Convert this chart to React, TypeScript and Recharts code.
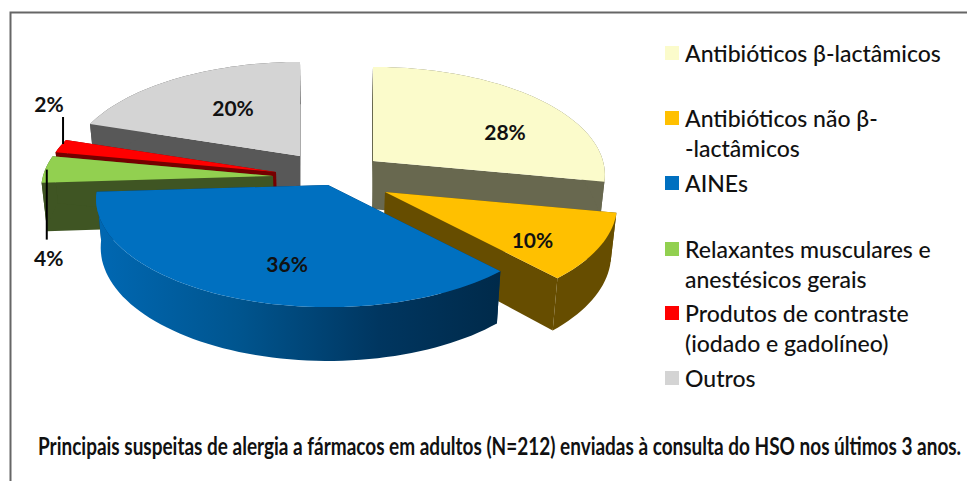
import { Legend, Pie, PieChart } from "recharts";

const names = [
  "Antibióticos β-lactâmicos",
  "Antibióticos não β-\n-lactâmicos",
  "AINEs",
  "Relaxantes musculares e\nanestésicos gerais",
  "Produtos de contraste\n(iodado e gadolíneo)",
  "Outros",
];
const shares = [28, 10, 36, 4, 2, 20];
const colors = ["#FBFBCB", "#FFC000", "#0070C0", "#92D050", "#FF0000", "#D4D4D4"];
const sideColors = ["#68684F", "#664D00", "#003560", "#3F5523", "#750000", "#585858"];

// painter's order, back slices first
const drawOrder = [5, 4, 3, 0, 1, 2];

const data = names.map((name, i) => ({
  name,
  value: shares[i],
  fill: colors[i],
  side: sideColors[i],
}));

const WIDTH = 967;
const HEIGHT = 481;
const CX = 325;
const CY = 170;
const RADIUS = 230;
const TILT = 0.47;
const PERSPECTIVE = 0.13;
const DEPTH = 48;
const DEPTH_GROW = 0.12;
const BOTTOM_SCALE = 0.98;

// how far each slice is pulled out of the pie, in pixels
const explode = [
  [48, -9],
  [60, 22],
  [3, 15],
  [-52, 6],
  [-49, 2],
  [-25, -14],
];
// label position relative to the slice's mid angle
const labelPlace = [
  [0.6, 31, 10],
  [0.6, 22, 15],
  [0.5, 4, 25],
  [1.1, 26, 89],
  [1.2, 30, -37],
  [0.6, 9, 1],
];
// leader line beside a label: dx, y from, y to
const leaders: Record<number, number[]> = {
  3: [-2, -88, -18],
  4: [14, 13, 40],
};

const rad = Math.PI / 180;

function project(clockDeg: number, r: number, shift: number[]) {
  const X = r * Math.sin(clockDeg * rad);
  const Y = -r * Math.cos(clockDeg * rad);
  const s = 1 + PERSPECTIVE * Y;
  return {
    x: CX + RADIUS * X * s + shift[0],
    y: CY + RADIUS * TILT * Y * s + shift[1],
    Y,
  };
}

const lower = (p: { x: number; y: number; Y: number }) => ({
  x: CX + (p.x - CX) * BOTTOM_SCALE,
  y: p.y + DEPTH * (1 + DEPTH_GROW * p.Y),
  Y: p.Y,
});

const toPath = (pts: { x: number; y: number }[]) =>
  "M" + pts.map((p) => `${p.x.toFixed(1)},${p.y.toFixed(1)}`).join("L") + "Z";

function Slice(props: any) {
  const i = names.indexOf(props.name);
  const shift = explode[i];
  // recharts angles run counter clockwise from 3 o'clock
  const from = 90 - props.startAngle;
  const to = 90 - props.endAngle;
  const rim = [];
  const steps = Math.max(4, Math.ceil((to - from) / 2));
  for (let k = 0; k <= steps; k++) {
    rim.push(project(from + ((to - from) * k) / steps, 1, shift));
  }
  const tip = project(0, 0, shift);
  const wall = [...rim, ...rim.map(lower).reverse()];
  const gradId = `wall-${i}`;
  return (
    <g>
      <defs>
        <linearGradient id={gradId} x1="0" y1="0" x2="1" y2="0">
          <stop offset="0" stopColor="#0068B3" />
          <stop offset="0.35" stopColor="#00558F" />
          <stop offset="0.7" stopColor="#003660" />
          <stop offset="1" stopColor="#002A4A" />
        </linearGradient>
      </defs>
      <path d={toPath([tip, rim[0], lower(rim[0]), lower(tip)])} fill={props.side} />
      <path
        d={toPath([tip, rim[rim.length - 1], lower(rim[rim.length - 1]), lower(tip)])}
        fill={props.side}
      />
      <path d={toPath(wall)} fill={i === 2 ? `url(#${gradId})` : props.side} />
      <path d={toPath([tip, ...rim])} fill={props.fill} />
    </g>
  );
}

const onlySlice = (idx: number) => (props: any) =>
  names.indexOf(props.name) === idx ? <Slice {...props} /> : <g />;

function SliceLabel(props: any) {
  const i = names.indexOf(props.name);
  const [dist, dx, dy] = labelPlace[i];
  const p = project(90 - props.midAngle, dist, explode[i]);
  const x = p.x + dx;
  const y = p.y + dy;
  const leader = leaders[i];
  return (
    <g>
      {leader && (
        <line
          x1={x + leader[0]}
          x2={x + leader[0]}
          y1={y + leader[1]}
          y2={y + leader[2]}
          stroke="#000"
          strokeWidth={2}
        />
      )}
      <text
        x={x}
        y={y}
        textAnchor="middle"
        dominantBaseline="central"
        fontFamily="Lato"
        fontSize={21}
        fontWeight={700}
        fill="#111"
      >
        {`${props.value}%`}
      </text>
    </g>
  );
}

const legendTops = [53, 118, 183, 249, 313, 378];

function ChartLegend() {
  return (
    <div style={{ position: "relative", width: 307, height: HEIGHT }}>
      {names.map((name, i) => (
        <div key={name}>
          <div
            style={{
              position: "absolute",
              left: 5,
              top: legendTops[i] - 7,
              width: 14,
              height: 14,
              background: colors[i],
            }}
          />
          {name.split("\n").map((line, n) => (
            <div
              key={line}
              style={{
                position: "absolute",
                left: 25,
                top: legendTops[i] + n * 30 - 15,
                lineHeight: "30px",
                whiteSpace: "nowrap",
                fontFamily: "Lato",
                fontSize: 23,
                fontWeight: 500,
                color: "#111",
              }}
            >
              {line}
            </div>
          ))}
        </div>
      ))}
    </div>
  );
}

export default function App() {
  return (
    <div style={{ position: "absolute", left: 0, top: 0, width: WIDTH, height: HEIGHT, background: "#fff" }}>
      <PieChart width={WIDTH} height={HEIGHT} margin={{ top: 0, right: 0, bottom: 0, left: 0 }}>
        <path d="M10.5,481V12.5H967" fill="none" stroke="#666" strokeWidth={2} />
        {drawOrder.map((idx) => (
          <Pie
            key={idx}
            data={data}
            dataKey="value"
            nameKey="name"
            cx={CX}
            cy={CY}
            outerRadius={RADIUS}
            startAngle={90}
            endAngle={-270}
            stroke="none"
            legendType="none"
            shape={onlySlice(idx)}
            isAnimationActive={false}
          />
        ))}
        <Pie
          data={data}
          dataKey="value"
          nameKey="name"
          cx={CX}
          cy={CY}
          outerRadius={RADIUS}
          startAngle={90}
          endAngle={-270}
          shape={() => <g />}
          label={SliceLabel}
          labelLine={false}
          isAnimationActive={false}
        />
        <text
          transform="translate(38,445) scale(0.759,1)"
          dominantBaseline="central"
          fontFamily="Lato"
          fontSize={25}
          fontWeight={700}
          fill="#111"
        >
          Principais suspeitas de alergia a fármacos em adultos (N=212) enviadas à consulta do HSO nos últimos 3 anos.
        </text>
        <Legend
          layout="vertical"
          align="right"
          verticalAlign="middle"
          width={307}
          height={HEIGHT}
          wrapperStyle={{ left: 660, top: 0, right: "auto", bottom: "auto" }}
          content={<ChartLegend />}
        />
      </PieChart>
    </div>
  );
}
